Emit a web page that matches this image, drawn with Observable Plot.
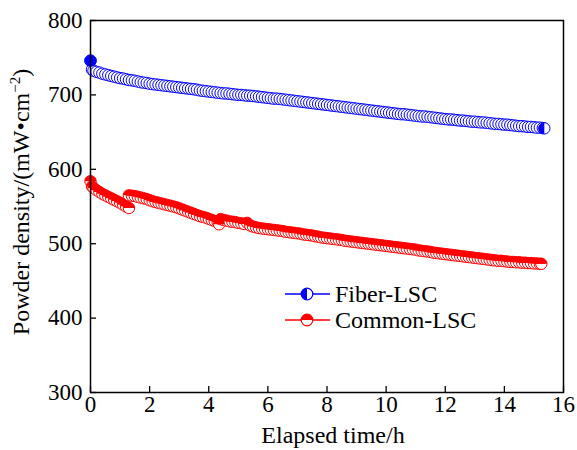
<!DOCTYPE html>
<html>
<head>
<meta charset="utf-8">
<script src="https://cdn.jsdelivr.net/npm/d3@7"></script>
<script src="https://cdn.jsdelivr.net/npm/@observablehq/plot@0.6"></script>
<style>
  html, body { margin: 0; padding: 0; background: #fff; }
  #chart { width: 577px; height: 450px; }
</style>
</head>
<body>
<div id="chart"></div>
<script>
// ---- data ----
const xTicks = [0, 2, 4, 6, 8, 10, 12, 14, 16];
const yTicks = [300, 400, 500, 600, 700, 800];

const fiberHours = [0, 0.05, 0.1, 0.2, 0.3, 0.4, 0.5, 0.6, 0.7, 0.8, 0.9, 1.0, 1.1, 1.2, 1.3, 1.4, 1.5, 1.6, 1.7, 1.8, 1.9, 2.0, 2.1, 2.2, 2.3, 2.4, 2.5, 2.6, 2.7, 2.8, 2.9, 3.0, 3.1, 3.2, 3.3, 3.4, 3.5, 3.6, 3.7, 3.8, 3.9, 4.0, 4.1, 4.2, 4.3, 4.4, 4.5, 4.6, 4.7, 4.8, 4.9, 5.0, 5.1, 5.2, 5.3, 5.4, 5.5, 5.6, 5.7, 5.8, 5.9, 6.0, 6.1, 6.2, 6.3, 6.4, 6.5, 6.6, 6.7, 6.8, 6.9, 7.0, 7.1, 7.2, 7.3, 7.4, 7.5, 7.6, 7.7, 7.8, 7.9, 8.0, 8.1, 8.2, 8.3, 8.4, 8.5, 8.6, 8.7, 8.8, 8.9, 9.0, 9.1, 9.2, 9.3, 9.4, 9.5, 9.6, 9.7, 9.8, 9.9, 10.0, 10.1, 10.2, 10.3, 10.4, 10.5, 10.6, 10.7, 10.8, 10.9, 11.0, 11.1, 11.2, 11.3, 11.4, 11.5, 11.6, 11.7, 11.8, 11.9, 12.0, 12.1, 12.2, 12.3, 12.4, 12.5, 12.6, 12.7, 12.8, 12.9, 13.0, 13.1, 13.2, 13.3, 13.4, 13.5, 13.6, 13.7, 13.8, 13.9, 14.0, 14.1, 14.2, 14.3, 14.4, 14.5, 14.6, 14.7, 14.8, 14.9, 15.0, 15.1, 15.2, 15.3, 15.35];
const fiberPower = [746, 734, 732.5, 731, 730, 728.5, 727.5, 726.5, 725.5, 724.5, 723.5, 722.5, 722, 721, 720, 719.5, 719, 718, 717, 716.5, 716, 715, 714.5, 714, 713.5, 713, 712.5, 712, 711.5, 711, 710.5, 710, 709.5, 709, 708.5, 708, 707.5, 707, 706, 705.5, 705, 704.5, 704, 703.5, 703, 702.5, 702, 702, 701.5, 701, 700.5, 700, 700, 699.5, 699, 699, 698.5, 698, 697.5, 697, 696.5, 696, 695.5, 695, 695, 694.5, 694, 693.5, 693, 692.5, 692, 691.5, 691, 690.5, 690, 689.5, 689, 688.5, 688, 687.5, 687, 686.5, 686, 685.5, 685, 684.5, 684, 683.5, 683, 682.5, 682, 681.5, 681, 680.5, 680, 679.5, 679, 678.5, 678, 677.5, 677, 676.5, 676, 675.5, 675, 674.5, 674, 674, 673.5, 673, 672.5, 672, 671.5, 671, 671, 670.5, 670, 669.5, 669, 668.5, 668, 667.5, 667, 667, 666.5, 666, 665.5, 665.5, 665, 664.5, 664, 664, 663.5, 663, 663, 662.5, 662, 661.5, 661, 661, 660.5, 660, 660, 659.5, 659, 658.5, 658, 658, 657.5, 657, 657, 656.5, 656, 656, 655.5, 655];

const commonHours = [0, 0.05, 0.1, 0.2, 0.3, 0.4, 0.5, 0.6, 0.7, 0.8, 0.9, 1.0, 1.1, 1.2, 1.3, 1.3, 1.4, 1.5, 1.6, 1.7, 1.8, 1.9, 2.0, 2.1, 2.2, 2.3, 2.4, 2.5, 2.6, 2.7, 2.8, 2.9, 3.0, 3.1, 3.2, 3.3, 3.4, 3.5, 3.6, 3.7, 3.8, 3.9, 4.0, 4.1, 4.2, 4.3, 4.35, 4.4, 4.5, 4.6, 4.7, 4.8, 4.9, 5.0, 5.1, 5.2, 5.3, 5.4, 5.5, 5.6, 5.7, 5.8, 5.9, 6.0, 6.1, 6.2, 6.3, 6.4, 6.5, 6.6, 6.7, 6.8, 6.9, 7.0, 7.1, 7.2, 7.3, 7.4, 7.5, 7.6, 7.7, 7.8, 7.9, 8.0, 8.1, 8.2, 8.3, 8.4, 8.5, 8.6, 8.7, 8.8, 8.9, 9.0, 9.1, 9.2, 9.3, 9.4, 9.5, 9.6, 9.7, 9.8, 9.9, 10.0, 10.1, 10.2, 10.3, 10.4, 10.5, 10.6, 10.7, 10.8, 10.9, 11.0, 11.1, 11.2, 11.3, 11.4, 11.5, 11.6, 11.7, 11.8, 11.9, 12.0, 12.1, 12.2, 12.3, 12.4, 12.5, 12.6, 12.7, 12.8, 12.9, 13.0, 13.1, 13.2, 13.3, 13.4, 13.5, 13.6, 13.7, 13.8, 13.9, 14.0, 14.1, 14.2, 14.3, 14.4, 14.5, 14.6, 14.7, 14.8, 14.9, 15.0, 15.1, 15.2, 15.25];
const commonPower = [584, 577, 575, 572, 569.5, 567, 565, 563, 561, 559, 557, 555, 552.5, 550, 548, 565, 564.5, 564, 563, 562, 561, 560, 558.5, 557, 556, 555, 554, 553, 552, 551, 550, 549, 547.5, 546, 544.5, 543, 541.5, 540, 538.5, 537, 536, 535, 533.5, 532, 530.5, 529, 526, 533, 532, 531, 530, 529.5, 529, 528, 527.5, 526.5, 528, 524.5, 523, 522, 521, 520.5, 520, 519.5, 519, 518.5, 518, 517.5, 517, 516, 515.5, 515, 514.5, 514, 513.5, 512.5, 512, 511.5, 511, 510, 509.5, 508.5, 508, 507.5, 507, 506.5, 506, 505.5, 505, 504, 503.5, 503, 502.5, 502, 501.5, 501, 500.5, 500, 499.5, 499, 498.5, 498, 497.5, 497, 496.5, 496, 495.5, 495, 494.5, 494, 493.5, 493, 492.5, 492, 491, 490.5, 490, 489.5, 489, 488, 487.5, 487, 486.5, 486, 485.5, 485, 484.5, 484, 483.5, 483, 482.5, 482, 481.5, 481, 480.5, 480, 479.5, 479, 478.5, 478, 477.5, 477, 477, 476.5, 476, 475.5, 475.5, 475, 475, 474.5, 474.5, 474, 474, 473.5, 473.5, 473, 473];

const seriesNames = ["Fiber-LSC", "Common-LSC"];
const seriesColors = ["#0000ff", "#ff0000"];

// ---- build tables ----
const fiber = fiberHours.map((h, i) => ({h, p: fiberPower[i]}));
const common = commonHours.map((h, i) => ({h, p: commonPower[i]}));

const halfTop = {draw(ctx, size) { const r = Math.sqrt(size / Math.PI); ctx.moveTo(-r, 0); ctx.arc(0, 0, r, Math.PI, 2 * Math.PI); ctx.closePath(); }};
const halfLeft = {draw(ctx, size) { const r = Math.sqrt(size / Math.PI); ctx.moveTo(0, -r); ctx.arc(0, 0, r, -Math.PI / 2, Math.PI / 2, true); ctx.closePath(); }};

const FONT = "'Liberation Serif', 'Times New Roman', serif";
const R = 5.7;

const chart = Plot.plot({
  width: 577,
  height: 450,
  marginLeft: 90,
  marginRight: 14,
  marginTop: 20,
  marginBottom: 58,
  style: {fontFamily: FONT, fontSize: "23px", color: "black", background: "white"},
  x: {domain: [0, 16], label: null},
  y: {domain: [300, 800], label: null},
  marks: [
    Plot.axisX({ticks: xTicks, tickSize: -6, tickPadding: 9, strokeWidth: 1.3, tickFormat: d => String(d), label: null}),
    Plot.axisY({ticks: yTicks, tickSize: -6, tickPadding: 14, strokeWidth: 1.3, tickFormat: d => String(d), label: null}),
    // Fiber-LSC
    Plot.line(fiber, {x: "h", y: "p", stroke: seriesColors[0], strokeWidth: 1}),
    Plot.dot(fiber, {x: "h", y: "p", r: R, fill: "white", stroke: seriesColors[0], strokeWidth: 1}),
    Plot.dot(fiber, {filter: (d, i) => i === 0, x: "h", y: "p", r: R, fill: seriesColors[0], stroke: seriesColors[0], strokeWidth: 1}),
    Plot.dot(fiber, {filter: (d, i) => i === fiber.length - 1, x: "h", y: "p", r: R, symbol: halfLeft, fill: seriesColors[0]}),
    // Common-LSC
    Plot.line(common, {x: "h", y: "p", stroke: seriesColors[1], strokeWidth: 1}),
    Plot.dot(common, {x: "h", y: "p", r: R, fill: "white", stroke: seriesColors[1], strokeWidth: 1}),
    Plot.dot(common, {x: "h", y: "p", r: R, symbol: halfTop, fill: seriesColors[1]}),
    Plot.frame({stroke: "black", strokeWidth: 1.5})
  ]
});

document.getElementById("chart").appendChild(chart);

const svg = d3.select(chart);

// axis titles
svg.append("text")
  .attr("x", 333).attr("y", 443)
  .attr("text-anchor", "middle")
  .attr("font-family", FONT).attr("font-size", 24).attr("fill", "black")
  .text("Elapsed time/h");

const yt = svg.append("text")
  .attr("transform", "translate(29,202) rotate(-90)")
  .attr("text-anchor", "middle")
  .attr("font-family", FONT).attr("font-size", 24).attr("fill", "black");
yt.append("tspan").text("Powder density/(mW\u2022cm");
yt.append("tspan").attr("font-size", 15).attr("dy", -9).text("\u22122");
yt.append("tspan").attr("dy", 9).text(")");

// legend
const legendY = [294, 320];
const symbols = [halfLeft, halfTop];
const lg = svg.append("g");
seriesNames.forEach((name, i) => {
  const y = legendY[i], c = seriesColors[i];
  lg.append("line").attr("x1", 285).attr("x2", 330).attr("y1", y).attr("y2", y).attr("stroke", c).attr("stroke-width", 1.3);
  lg.append("circle").attr("cx", 307).attr("cy", y).attr("r", 5.8).attr("fill", "white").attr("stroke", c).attr("stroke-width", 1.2);
  lg.append("path").attr("transform", `translate(307,${y})`).attr("d", d3.symbol(symbols[i], Math.PI * 5.8 * 5.8)()).attr("fill", c);
  lg.append("text").attr("x", 335).attr("y", y + 8).attr("text-anchor", "start").attr("font-family", FONT).attr("font-size", 24).attr("fill", "black").text(name);
});
</script>
</body>
</html>
